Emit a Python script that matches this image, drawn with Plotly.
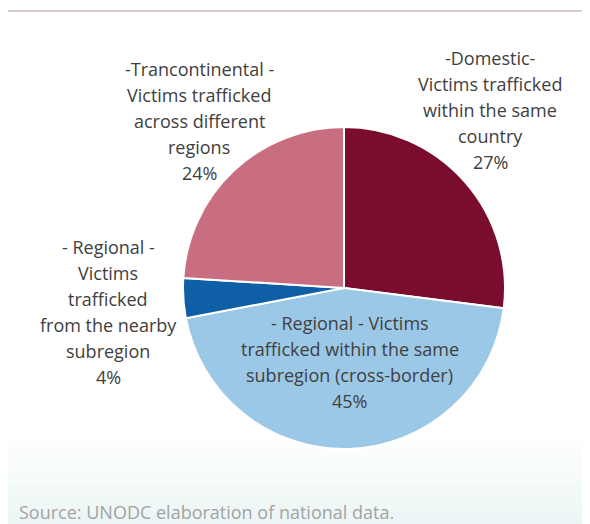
import plotly.graph_objects as go

# ---- data ----
categories = ["Domestic", "Regional (same subregion)", "Regional (nearby subregion)", "Transcontinental"]
values = [27, 45, 4, 24]
colors = ["#7A0C2D", "#9CC8E7", "#0F5FA7", "#C96E81"]
label_texts = [
    "-Domestic-<br>Victims trafficked<br>within the same<br>country<br>27%",
    "- Regional - Victims<br>trafficked within the same<br>subregion (cross-border)<br>45%",
    "- Regional -<br>Victims<br>trafficked<br>from the nearby<br>subregion<br>4%",
    "-Trancontinental -<br>Victims trafficked<br>across different<br>regions<br>24%",
]
source_text = "Source: UNODC elaboration of national data."

W, H = 600, 532
OFF = 8  # page body margin offset in the browser
cx, cy, r = 344 - OFF, 288 - OFF, 161

fig = go.Figure()
fig.add_trace(go.Pie(
    labels=categories,
    values=values,
    sort=False,
    direction="clockwise",
    rotation=0,
    marker=dict(colors=colors, line=dict(color="white", width=2)),
    textinfo="none",
    hoverinfo="label+percent",
    showlegend=False,
    domain=dict(x=[(cx - r) / W, (cx + r) / W], y=[1 - (cy + r) / H, 1 - (cy - r) / H]),
))

# label placement (first line center, in reference pixels)
label_pos = [(490, 58), (350, 323), (108, 247), (199, 69)]
line_gap = 26
annotations = []
for txt, (lx, ly) in zip(label_texts, label_pos):
    for i, line in enumerate(txt.split("<br>")):
        annotations.append(dict(
            x=(lx - OFF) / W, y=1 - (ly - OFF + i * line_gap) / H, xref="paper", yref="paper",
            text=line, showarrow=False, xanchor="center", yanchor="middle",
            font=dict(family="Open Sans", size=18, color="#404040"),
        ))
annotations.append(dict(
    x=(17 - OFF) / W, y=1 - (512 - OFF) / H, xref="paper", yref="paper", text=source_text,
    showarrow=False, xanchor="left", yanchor="middle",
    font=dict(family="Open Sans", size=18, color="#a3a3a3"),
))

shapes = [
    dict(type="line", xref="paper", yref="paper", x0=0, x1=1,
         y0=1 - (11 - OFF) / H, y1=1 - (11 - OFF) / H,
         line=dict(color="#dccdd1", width=2), layer="below"),
]
# soft bluish haze at the bottom (stacked faint bands)
for k in range(10):
    top = 440 + k * 9
    shapes.append(dict(
        type="rect", xref="paper", yref="paper", x0=0, x1=1,
        y0=0, y1=1 - (top - OFF) / H,
        fillcolor="rgba(215,230,243,0.06)", line=dict(width=0), layer="below",
    ))

fig.update_layout(
    width=W, height=H,
    margin=dict(l=0, r=0, t=0, b=0),
    paper_bgcolor="white", plot_bgcolor="white",
    annotations=annotations,
    shapes=shapes,
)

fig.write_html("out.html")
